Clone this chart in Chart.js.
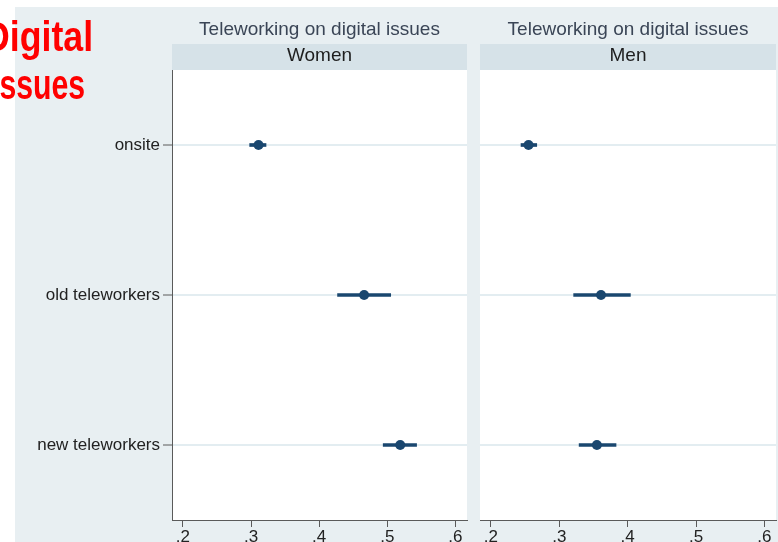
<!DOCTYPE html>
<html>
<head>
<meta charset="utf-8">
<script src="https://cdn.jsdelivr.net/npm/chart.js@4.4.1/dist/chart.umd.min.js"></script>
<style>
    html, body { margin: 0; padding: 0; background: #fff; overflow: hidden; }
    #stage { position: relative; width: 778px; height: 542px; }
    #graphRegion {
        position: absolute; left: 15px; top: 7px; width: 763px; height: 535px;
        background: #e8eff2;
    }
    canvas { position: absolute; top: 0; }
    #womenChart { left: 0; }
    #menChart { left: 470px; }
    .heading {
        position: absolute; color: #ff0000; font-weight: bold;
        font-family: "Liberation Sans", Arial, sans-serif;
        font-size: 42px; line-height: 42px; white-space: nowrap;
        transform-origin: left top;
    }
</style>
</head>
<body>
<div id="stage">
    <div id="graphRegion"></div>
    <canvas id="womenChart" width="470" height="542"></canvas>
    <canvas id="menChart" width="308" height="542"></canvas>
    <div class="heading" style="left:-16px; top:16px; transform:scaleX(0.85);">Digital</div>
    <div class="heading" style="left:-9px; top:64px; transform:scaleX(0.72);">Issues</div>
</div>

<script>
// ── Data ──────────────────────────────────────────────────────────────────────
const categories = ['onsite', 'old teleworkers', 'new teleworkers'];

const womenEst = [0.311, 0.466, 0.519];
const womenLo  = [0.298, 0.427, 0.494];
const womenHi  = [0.322, 0.505, 0.543];

const menEst = [0.255, 0.361, 0.355];
const menLo  = [0.244, 0.321, 0.329];
const menHi  = [0.267, 0.404, 0.383];

const xTicks      = [0.2, 0.3, 0.4, 0.5, 0.6];
const xTickLabels = ['.2', '.3', '.4', '.5', '.6'];
const xMin = 0.184;
const xMax = 0.617;

const panelTitle = 'Teleworking on digital issues';

// ── Theme ─────────────────────────────────────────────────────────────────────
const MARK_COLOR  = '#1a476f';
const AXIS_COLOR  = '#5a5a5a';
const GRID_COLOR  = '#e3edf1';
const STRIP_COLOR = '#d6e2e8';
const FONT = '"Liberation Sans", Arial, sans-serif';

Chart.defaults.font.family = FONT;
Chart.defaults.color = '#222';

// White plot region plus the title and the by-group strip above it
const panelFrame = {
    id: 'panelFrame',
    beforeDraw(chart, args, opts) {
        const { ctx, chartArea: a } = chart;
        ctx.save();
        ctx.fillStyle = '#fff';
        ctx.fillRect(a.left, a.top, a.right - a.left, a.bottom - a.top);

        ctx.fillStyle = STRIP_COLOR;
        ctx.fillRect(a.left, 44, a.right - a.left, a.top - 44);

        const cx = (a.left + a.right) / 2;
        ctx.textAlign = 'center';
        ctx.textBaseline = 'middle';
        ctx.font = '19px ' + FONT;
        ctx.fillStyle = '#3a4556';
        ctx.fillText(panelTitle, cx, 30);
        ctx.fillStyle = '#1e1e1e';
        ctx.fillText(opts.label, cx, 56);
        ctx.restore();
    }
};

/**
 * Build one panel: floating bars for the confidence intervals and
 * scatter points for the estimates.
 */
function panelConfig(label, est, lo, hi, showLabels, padding) {
    return {
        type: 'bar',
        data: {
            labels: categories,
            datasets: [
                {
                    type: 'scatter',
                    data: categories.map((c, i) => ({ x: est[i], y: c })),
                    backgroundColor: MARK_COLOR,
                    borderColor: MARK_COLOR,
                    pointRadius: 5,
                    pointBorderWidth: 0,
                    order: 0,
                },
                {
                    data: categories.map((c, i) => [lo[i], hi[i]]),
                    backgroundColor: MARK_COLOR,
                    barThickness: 3,
                    order: 1,
                },
            ],
        },
        options: {
            indexAxis: 'y',
            responsive: false,
            animation: false,
            layout: { padding, autoPadding: false },
            plugins: {
                legend: { display: false },
                tooltip: { enabled: false },
                panelFrame: { label },
            },
            scales: {
                x: {
                    type: 'linear',
                    min: xMin,
                    max: xMax,
                    afterBuildTicks: (scale) => { scale.ticks = xTicks.map((v) => ({ value: v })); },
                    afterFit: (scale) => {
                        // labels sit well inside the range, so no edge padding is needed
                        scale.height = 22;
                        scale.paddingLeft = 0;
                        scale.paddingRight = 0;
                    },
                    ticks: {
                        font: { size: 17 },
                        color: '#222',
                        padding: 0,
                        maxRotation: 0,
                        callback: (v) => xTickLabels[xTicks.indexOf(v)] ?? '',
                    },
                    grid: {
                        drawOnChartArea: false,
                        tickLength: 7,
                        tickColor: AXIS_COLOR,
                        tickWidth: 1,
                    },
                    border: { color: AXIS_COLOR, width: 1 },
                },
                y: {
                    type: 'category',
                    labels: categories,
                    offset: true,
                    afterFit: (scale) => {
                        scale.width = showLabels ? 172 : 0;
                        scale.paddingTop = 0;
                        scale.paddingBottom = 0;
                    },
                    ticks: {
                        display: showLabels,
                        font: { size: 17 },
                        color: '#222',
                        padding: 3,
                    },
                    grid: {
                        offset: false,
                        color: GRID_COLOR,
                        lineWidth: 2,
                        drawTicks: showLabels,
                        tickLength: 9,
                        tickColor: AXIS_COLOR,
                        tickWidth: 1,
                    },
                    border: { display: showLabels, color: AXIS_COLOR, width: 1 },
                },
            },
        },
        plugins: [panelFrame],
    };
}

new Chart(document.getElementById('womenChart'),
    panelConfig('Women', womenEst, womenLo, womenHi, true, { left: 0, top: 70, right: 3, bottom: 0 }));
new Chart(document.getElementById('menChart'),
    panelConfig('Men', menEst, menLo, menHi, false, { left: 10, top: 70, right: 2, bottom: 0 }));
</script>
</body>
</html>
